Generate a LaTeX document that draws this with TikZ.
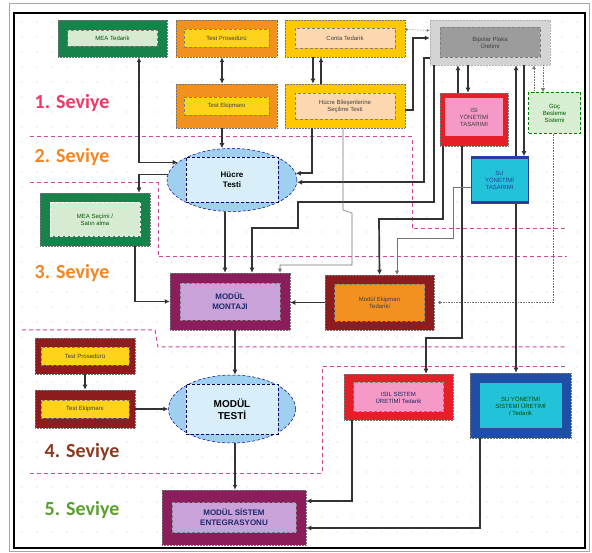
\documentclass[tikz,border=0pt]{standalone}
\usepackage{fontspec}
\setmainfont{Liberation Sans}
\newfontfamily\lvlfont{Carlito}
\usetikzlibrary{arrows.meta,shapes.geometric}

\definecolor{cGreen}{HTML}{17834A}
\definecolor{cLGreen}{HTML}{D6EBD2}
\definecolor{cOrange}{HTML}{F39120}
\definecolor{cYellow}{HTML}{FFD31A}
\definecolor{cGold}{HTML}{FFC800}
\definecolor{cPeach}{HTML}{FDD7B0}
\definecolor{cLGray}{HTML}{D4D4D4}
\definecolor{cGray}{HTML}{9C9C9C}
\definecolor{cRed}{HTML}{E61E27}
\definecolor{cPink}{HTML}{F59AC6}
\definecolor{cGuc}{HTML}{D8EED2}
\definecolor{cCyan}{HTML}{22C3D9}
\definecolor{cNavy}{HTML}{2B3C9B}
\definecolor{cSky}{HTML}{9FD0EF}
\definecolor{cSkyL}{HTML}{D8EFF9}
\definecolor{cPlum}{HTML}{8C1D5C}
\definecolor{cLav}{HTML}{C8A2D8}
\definecolor{cMaroon}{HTML}{8E1B1E}
\definecolor{cBlue}{HTML}{1F4EA5}
\definecolor{cSep}{HTML}{D1489A}
\definecolor{cLvA}{HTML}{EE3868}
\definecolor{cLvB}{HTML}{F5861F}
\definecolor{cLvD}{HTML}{8B3A20}
\definecolor{cLvE}{HTML}{5AA02C}

\begin{document}
\begin{tikzpicture}[x=1pt,y=-1pt,
  obox/.style={draw=black!55, densely dotted, line width=0.5pt, inner sep=0pt},
  ibox/.style={draw=black!50, densely dashed, line width=0.4pt, inner sep=0pt,
    align=center, font=\fontsize{6}{7}\selectfont},
  bbox/.style={ibox, font=\bfseries\fontsize{8}{10}\selectfont},
  ell/.style={ellipse, draw=blue!55!black, densely dashed, line width=0.5pt,
    fill=cSky, inner sep=0pt},
  lvl/.style={font=\lvlfont\bfseries\fontsize{20}{22}\selectfont, inner sep=0pt},
  conn/.style={draw=black!80, line width=1.7pt, -{Latex[length=5pt,width=5pt]}},
  thin/.style={draw=black!55, line width=0.6pt, -{Latex[length=4pt,width=4pt]}},
  sep/.style={draw=cSep, line width=1pt, dash pattern=on 4pt off 3pt}
]
\useasboundingbox (0,0) rectangle (592,553);
\fill[white] (0,0) rectangle (592,553);

% frames and dot grid
\draw[gray!70, line width=0.8pt] (9,3) rectangle (589,551);
\draw[black, line width=1.2pt] (14,13) rectangle (585,548);
\foreach \i in {0,...,37}
  \foreach \j in {0,...,34}
    \fill[gray!40] (22+15*\i, 22+15*\j) circle[radius=0.6pt];

% level separators
\draw[sep] (30,137) -- (412,137) -- (412,229) -- (567,229);
\draw[sep] (30,183) -- (158,183) -- (158,257) -- (567,257);
\draw[sep] (22,330) -- (155,330) -- (158,347) -- (567,347);
\draw[sep] (30,473) -- (322,473) -- (322,367) -- (567,367);

% level labels
\node[lvl, text=cLvA] (lv1) at (72,103) {1. Seviye};
\node[lvl, text=cLvB] (lv2) at (72,157) {2. Seviye};
\node[lvl, text=cLvB] (lv3) at (72,273) {3. Seviye};
\node[lvl, text=cLvD] (lv4) at (82,452) {4. Seviye};
\node[lvl, text=cLvE] (lv5) at (82,510) {5. Seviye};

% ---- level 1 boxes
\node[obox, fill=cGreen, minimum width=109pt, minimum height=37pt] (meaT) at (112.5,38.5) {};
\node[ibox, fill=cLGreen, text=green!35!black, minimum width=90pt, minimum height=16pt] (meaTt) at (meaT) {MEA Tedarik};

\node[obox, fill=cOrange, minimum width=101pt, minimum height=37pt] (testP) at (226.5,38.5) {};
\node[ibox, fill=cYellow, text=black!75, minimum width=85pt, minimum height=18pt] (testPt) at (testP) {Test Prosedürü};

\node[obox, fill=cGold, minimum width=120pt, minimum height=37pt] (conta) at (345,38.5) {};
\node[ibox, fill=cPeach, text=black!75, minimum width=100pt, minimum height=20pt] (contat) at (conta) {Conta Tedarik};

\node[obox, draw=gray!60, fill=cLGray, minimum width=120pt, minimum height=45pt] (bipolar) at (490,42.5) {};
\node[ibox, fill=cGray, text=black!75, minimum width=100pt, minimum height=30pt] (bipolart) at (bipolar) {Bipolar Plaka\\Üretimi};

\node[obox, fill=cOrange, minimum width=101pt, minimum height=44pt] (testE) at (226.5,106) {};
\node[ibox, fill=cYellow, text=black!75, minimum width=85pt, minimum height=18pt] (testEt) at (testE) {Test Ekipmanı};

\node[obox, fill=cGold, minimum width=120pt, minimum height=44pt] (hbst) at (345,106) {};
\node[ibox, fill=cPeach, text=black!75, minimum width=100pt, minimum height=26pt] (hbstt) at (hbst) {Hücre Bileşenlerine\\Seçilme Testi};

\node[obox, fill=cRed, minimum width=68pt, minimum height=53pt] (isiY) at (474,119.5) {};
\node[ibox, draw=none, fill=cPink, text=black!75, minimum width=58pt, minimum height=38pt] (isiYt) at (474,117) {ISI\\YÖNETİMİ\\TASARIMI};

\node[obox, draw=green!50!black, densely dashed, fill=cGuc, text=green!35!black,
  font=\fontsize{6}{7}\selectfont, align=center, minimum width=52pt, minimum height=41pt] (guc) at (554.5,113) {Güç\\Besleme\\Sistemi};

\node[obox, draw=cNavy, solid, fill=cCyan, text=cNavy, font=\fontsize{6}{7}\selectfont,
  align=center, minimum width=57pt, minimum height=47pt] (cyanb) at (499.5,180) {SU\\YÖNETİMİ\\TASARIMI};
\fill[cNavy] (cyanb.north west) rectangle ([yshift=-3pt]cyanb.north east);
\fill[cNavy] (cyanb.south west) rectangle ([yshift=3pt]cyanb.south east);

% ---- level 2
\node[ell, minimum width=130pt, minimum height=63pt] (hucre) at (232,180) {};
\node[bbox, fill=cSkyL, draw=blue!40!black, minimum width=92pt, minimum height=45pt] (hucret) at (hucre) {Hücre\\Testi};

\node[obox, fill=cGreen, minimum width=110pt, minimum height=53pt] (meaS) at (95,219.5) {};
\node[ibox, draw=white, fill=cLGreen, text=green!35!black, minimum width=90pt, minimum height=34pt] (meaSt) at (meaS) {MEA Seçimi /\\Satın alma};

% ---- level 3
\node[obox, fill=cPlum, minimum width=120pt, minimum height=57pt] (montaj) at (230,301.5) {};
\node[bbox, fill=cLav, text=cNavy!70!black, minimum width=100pt, minimum height=37pt] (montajt) at (montaj) {MODÜL\\MONTAJI};

\node[obox, fill=cMaroon, minimum width=109pt, minimum height=55pt] (ekip) at (379.5,302.5) {};
\node[ibox, fill=cOrange, text=black!75, minimum width=90pt, minimum height=37pt] (ekipt) at (ekip) {Modül Ekipman\\Tedariki};

% ---- level 4
\node[obox, fill=cMaroon, minimum width=100pt, minimum height=36pt] (testP2) at (85,356) {};
\node[ibox, fill=cYellow, text=black!75, minimum width=88pt, minimum height=18pt] (testP2t) at (testP2) {Test Prosedürü};

\node[obox, fill=cMaroon, minimum width=100pt, minimum height=38pt] (testE2) at (85,409) {};
\node[ibox, fill=cYellow, text=black!75, minimum width=88pt, minimum height=18pt] (testE2t) at (testE2) {Test Ekipmanı};

\node[ell, minimum width=127pt, minimum height=68pt] (mtest) at (232,409) {};
\node[bbox, fill=cSkyL, draw=blue!40!black, font=\bfseries\fontsize{10}{12}\selectfont,
  minimum width=92pt, minimum height=50pt] (mtestt) at (mtest) {MODÜL\\TESTİ};

\node[obox, fill=cRed, minimum width=109pt, minimum height=46pt] (isil) at (398.5,397) {};
\node[ibox, fill=cPink, text=cNavy!60!black, minimum width=90pt, minimum height=29pt] (isilt) at (isil) {ISIL SİSTEM\\ÜRETİMİ Tedarik};

\node[obox, fill=cBlue, minimum width=101pt, minimum height=65pt] (blue) at (520.5,405.5) {};
\node[ibox, draw=none, fill=cCyan, text=green!30!black, minimum width=82pt, minimum height=45pt] (bluet) at (blue) {SU YÖNETİMİ\\SİSTEMİ ÜRETİMİ\\/ Tedarik};

% ---- level 5
\node[obox, fill=cPlum, minimum width=144pt, minimum height=55pt] (enteg) at (234,517.5) {};
\node[bbox, fill=cLav, text=cNavy!70!black, minimum width=124pt, minimum height=30pt] (entegt) at (enteg) {MODÜL SİSTEM\\ENTEGRASYONU};

% column helpers
\coordinate (xA) at (139,0);
\coordinate (xB) at (222,0);

% ---- connectors
\draw[conn, {Latex[length=5pt,width=5pt]}-{Latex[length=5pt,width=5pt]}]
  (meaT.south -| xA) |- (hucre.162.7);
\draw[conn] (hucre.175.5) -| (meaS.north -| xA);
\draw[conn, {Latex[length=5pt,width=5pt]}-{Latex[length=5pt,width=5pt]}]
  (testP.south -| xB) -- (testE.north -| xB);
\draw[conn] (testE.south -| xB) -- (xB |- hucre.north);
\draw[conn] ([xshift=-32pt]conta.south) -- ([xshift=-32pt]hbst.north);
\draw[conn] ([xshift=-24pt]hbst.north) -- ([xshift=-24pt]conta.south);
\draw[conn] ([xshift=-33pt]hbst.south) |- (hucre.6.3);
\draw[conn] ([yshift=-4pt]hbst.east) -- ++(8,0) |- ([yshift=4.5pt]bipolar.west);
\draw[draw=black!55, line width=0.6pt, densely dotted, {Circle[length=2.5pt]}-{Latex[length=3pt,width=3pt]}]
  ([yshift=9pt]conta.east) -- ([yshift=12pt]bipolar.west);
\draw[conn] ([yshift=-15.5pt]bipolar.west) -- ++(-6,0) |- (hucre.-2.6);
\draw[conn] ([xshift=-56pt]bipolar.south) -- (434,202) -- (298,202) -- (298,228) -- (252,228) -- (montaj.north -| 252,0);
\draw[conn] ([xshift=-16pt]isiY.north) -- ([xshift=-32pt]bipolar.south);
\draw[conn] ([xshift=-22pt]bipolar.south) -- ([xshift=-6pt]isiY.north);
\draw[conn] ([xshift=16.5pt]cyanb.north) -- ([xshift=26pt]bipolar.south);
\draw[conn] ([xshift=34pt]bipolar.south) -- ([xshift=24.5pt]cyanb.north);
\draw[thin, densely dotted] ([xshift=-20.5pt]guc.north) -- ([xshift=44pt]bipolar.south);
\draw[thin, densely dotted] ([xshift=53pt]bipolar.south) -- ([xshift=-11.5pt]guc.north);
\draw[draw=black!55, line width=0.6pt, densely dotted, -{Circle[length=3pt]}]
  ([xshift=-1.5pt]guc.south) |- ([xshift=4pt]ekip.east);
\draw[conn] ([xshift=-31pt]isiY.south) -- (443,219) -- (379,219) -- (ekip.north);
\draw[conn] ([xshift=-12pt]isiY.south) -- (462,338) -- (426,338) -- ([xshift=27.5pt]isil.north);
\draw[thin] ([yshift=-7pt]cyanb.west) -- (453,187) -- (453,238) -- (397,238) -- ([xshift=17.5pt]ekip.north);
\draw[thin] ([xshift=-2pt]hbst.south) -- (343,210) -- (352,213) -- (352,265) -- (280,265) -- ([xshift=50pt]montaj.north);
\draw[conn] ([xshift=16.5pt]cyanb.south) -- ([xshift=-4.5pt]blue.north);
\draw[conn] ([xshift=-7pt]hucre.south) -- ([xshift=-5pt]montaj.north);
\draw[conn] ([xshift=40pt]meaS.south) |- (montaj.west);
\draw[conn] (ekip.west) -- (montaj.east |- ekip.west);
\draw[conn] ([xshift=5pt]montaj.south) -- ([xshift=3pt]mtest.north);
\draw[conn] (testP2.south) -- (testE2.north);
\draw[conn] (testE2.east) -- (mtest.west);
\draw[conn] ([xshift=3pt]mtest.south) -- ([xshift=1pt]enteg.north);
\draw[conn] ([xshift=-46.5pt]isil.south) |- ([yshift=16.5pt]enteg.east);
\draw[conn] ([xshift=-40.5pt]blue.south) |- ([yshift=-10.5pt]enteg.east);
\end{tikzpicture}
\end{document}
